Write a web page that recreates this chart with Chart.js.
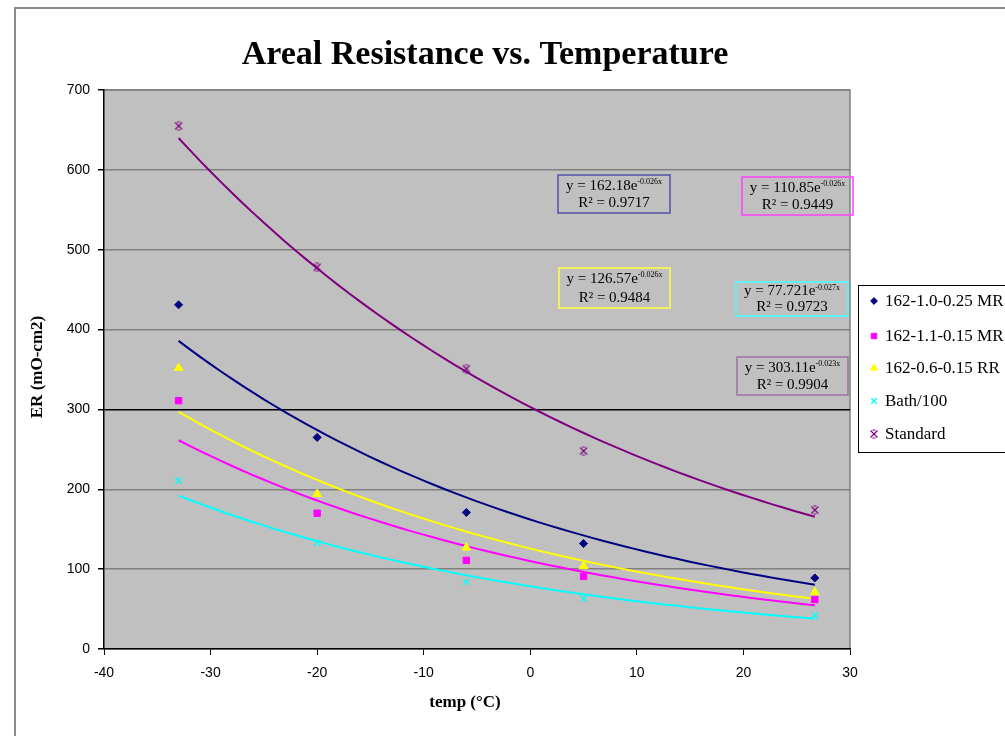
<!DOCTYPE html>
<html>
<head>
<meta charset="utf-8">
<script src="https://cdn.jsdelivr.net/npm/chart.js@4/dist/chart.umd.min.js"></script>
<style>
  body { margin: 0; background: #fff; }
  canvas { display: block; }
</style>
</head>
<body>
<canvas id="erChart" width="1005" height="736"></canvas>
<script>
// Datos
const temps = [-33, -20, -6, 5, 26.7];
const seriesNames = ["162-1.0-0.25 MR", "162-1.1-0.15 MR", "162-0.6-0.15 RR", "Bath/100", "Standard"];
const er1 = [431, 265, 171, 132, 89];
const er2 = [311, 170, 111, 91, 62];
const er3 = [352, 194, 127, 104, 71];
const bath = [211, 133, 84, 63, 42];
const standard = [655, 478, 351, 248, 174];
const seriesColors = ["#000080", "#ff00ff", "#ffff00", "#00ffff", "#800080"];

// Textos de las ecuaciones de tendencia
const eqBase = ["y = 162.18e", "y = 110.85e", "y = 126.57e", "y = 77.721e", "y = 303.11e"];
const eqExp = ["-0.026x", "-0.026x", "-0.026x", "-0.027x", "-0.023x"];
const eqR2 = ["R\u00b2 = 0.9717", "R\u00b2 = 0.9449", "R\u00b2 = 0.9484", "R\u00b2 = 0.9723", "R\u00b2 = 0.9904"];

const xTicks = [-40, -30, -20, -10, 0, 10, 20, 30];
const yTicks = [0, 100, 200, 300, 400, 500, 600, 700];

const allSeries = [er1, er2, er3, bath, standard];

// marcador del "Standard": x con barras cortas arriba y abajo
function standardMarker() {
  const c = document.createElement("canvas");
  c.width = 10; c.height = 10;
  const g = c.getContext("2d");
  g.strokeStyle = "#800080";
  g.lineWidth = 1.2;
  g.beginPath();
  g.moveTo(1.5, 1.5); g.lineTo(8.5, 8.5);
  g.moveTo(8.5, 1.5); g.lineTo(1.5, 8.5);
  g.moveTo(3.5, 1); g.lineTo(6.5, 1);
  g.moveTo(3.5, 9); g.lineTo(6.5, 9);
  g.stroke();
  return c;
}

const pointStyles = ["rectRot", "rect", "triangle", "crossRot", standardMarker()];
const pointSizes = [4, 4.5, 5, 4.5, 5];

// ajuste exponencial (como Excel: regresión lineal sobre ln y)
function expFit(xs, ys) {
  const n = xs.length;
  const ly = ys.map(v => Math.log(v));
  const mx = xs.reduce((a, b) => a + b, 0) / n;
  const my = ly.reduce((a, b) => a + b, 0) / n;
  let sxy = 0, sxx = 0;
  for (let i = 0; i < n; i++) {
    sxy += (xs[i] - mx) * (ly[i] - my);
    sxx += (xs[i] - mx) ** 2;
  }
  const k = sxy / sxx;
  return { a: Math.exp(my - k * mx), k: k };
}

function trendPoints(ys) {
  const f = expFit(temps, ys);
  const x0 = Math.min(...temps), x1 = Math.max(...temps);
  const pts = [];
  for (let i = 0; i <= 60; i++) {
    const x = x0 + (x1 - x0) * i / 60;
    pts.push({ x: x, y: f.a * Math.exp(f.k * x) });
  }
  return pts;
}

const datasets = [];
allSeries.forEach((ys, i) => {
  datasets.push({
    type: "line",
    label: "trend" + i,
    data: trendPoints(ys),
    borderColor: seriesColors[i],
    borderWidth: 2,
    pointRadius: 0,
    fill: false,
    order: 2
  });
});
allSeries.forEach((ys, i) => {
  datasets.push({
    type: "scatter",
    label: seriesNames[i],
    data: temps.map((t, j) => ({ x: t, y: ys[j] })),
    backgroundColor: seriesColors[i],
    borderColor: seriesColors[i],
    borderWidth: i === 3 ? 1.3 : 1,
    pointStyle: pointStyles[i],
    pointRadius: pointSizes[i],
    showLine: false,
    order: 1
  });
});

const framePlugin = {
  id: "frame",
  beforeDraw(chart) {
    const ctx = chart.ctx;
    const a = chart.chartArea;
    ctx.save();
    ctx.fillStyle = "#fff";
    ctx.fillRect(0, 0, chart.width, chart.height);
    // marco exterior
    ctx.strokeStyle = "#8c8c8c";
    ctx.lineWidth = 2;
    ctx.strokeRect(15, 8, 1200, 900);
    // área del gráfico
    ctx.fillStyle = "#c0c0c0";
    ctx.fillRect(a.left, a.top, a.right - a.left, a.bottom - a.top);
    ctx.strokeStyle = "#808080";
    ctx.lineWidth = 1.5;
    ctx.beginPath();
    ctx.moveTo(a.left, a.top);
    ctx.lineTo(a.right, a.top);
    ctx.lineTo(a.right, a.bottom);
    ctx.stroke();
    ctx.restore();
  },
  afterDraw(chart) {
    const ctx = chart.ctx;
    ctx.save();
    ctx.fillStyle = "#000";
    // título
    ctx.font = "bold 34px 'Liberation Serif'";
    ctx.textAlign = "center";
    ctx.textBaseline = "middle";
    ctx.fillText("Areal Resistance vs. Temperature", 485, 55);
    // títulos de ejes
    ctx.font = "bold 17px 'Liberation Serif'";
    ctx.fillText("temp (\u00b0C)", 465, 703);
    ctx.save();
    ctx.translate(38, 367);
    ctx.rotate(-Math.PI / 2);
    ctx.font = "bold 17px 'Liberation Serif'";
    ctx.fillText("ER (mO-cm2)", 0, 0);
    ctx.restore();

    // cuadros de ecuación
    const boxes = [
      [558, 175, 112, 38], [742, 177, 111, 38], [559, 268, 111, 40],
      [736, 282, 112, 34], [737, 357, 111, 38]
    ];
    const boxColors = ["#5050a8", "#ff40ff", "#ffff40", "#40ffff", "#a070a0"];
    boxes.forEach((b, i) => {
      ctx.strokeStyle = boxColors[i];
      ctx.lineWidth = 1.5;
      ctx.strokeRect(b[0], b[1], b[2], b[3]);
      ctx.fillStyle = "#000";
      ctx.font = "15px 'Liberation Serif'";
      ctx.textAlign = "left";
      ctx.textBaseline = "middle";
      const w1 = ctx.measureText(eqBase[i]).width;
      ctx.font = "8px 'Liberation Serif'";
      const w2 = ctx.measureText(eqExp[i]).width;
      const sx = b[0] + (b[2] - w1 - w2) / 2;
      ctx.font = "15px 'Liberation Serif'";
      ctx.fillText(eqBase[i], sx, b[1] + b[3] * 0.28);
      ctx.font = "8px 'Liberation Serif'";
      ctx.fillText(eqExp[i], sx + w1, b[1] + b[3] * 0.28 - 4);
      ctx.font = "15px 'Liberation Serif'";
      ctx.textAlign = "center";
      ctx.fillText(eqR2[i], b[0] + b[2] / 2, b[1] + b[3] * 0.74);
    });

    // leyenda
    ctx.fillStyle = "#fff";
    ctx.fillRect(858, 285, 200, 167);
    ctx.strokeStyle = "#000";
    ctx.lineWidth = 1;
    ctx.strokeRect(858.5, 285.5, 200, 167);
    const rows = [301, 336, 368, 401, 434];
    const scatterSets = chart.data.datasets.filter(d => d.type === "scatter");
    scatterSets.forEach((d, r) => {
      ctx.fillStyle = d.backgroundColor;
      ctx.strokeStyle = d.borderColor;
      ctx.lineWidth = d.borderWidth;
      Chart.helpers.drawPoint(ctx, {
        pointStyle: d.pointStyle,
        radius: d.pointRadius * 0.85,
        borderWidth: d.borderWidth,
        rotation: 0
      }, 874, rows[r]);
      ctx.fillStyle = "#000";
      ctx.font = "17px 'Liberation Serif'";
      ctx.textAlign = "left";
      ctx.textBaseline = "middle";
      ctx.fillText(d.label, 885, rows[r] + 1);
    });
    ctx.restore();
  }
};

new Chart(document.getElementById("erChart"), {
  type: "scatter",
  data: { datasets: datasets },
  options: {
    responsive: false,
    animation: false,
    devicePixelRatio: 1,
    layout: { padding: { left: 44, right: 155, top: 90, bottom: 57 } },
    plugins: {
      legend: { display: false },
      title: { display: false },
      tooltip: { enabled: false }
    },
    scales: {
      x: {
        type: "linear",
        min: xTicks[0],
        max: xTicks[xTicks.length - 1],
        afterBuildTicks: s => { s.ticks = xTicks.map(v => ({ value: v })); },
        afterFit: s => { s.height = 30; },
        ticks: { color: "#000", font: { family: "'Liberation Sans'", size: 14 }, padding: 10, maxRotation: 0 },
        grid: { drawOnChartArea: false, drawTicks: true, tickLength: 6, tickColor: "#000" },
        border: { color: "#000", width: 1.5 }
      },
      y: {
        min: yTicks[0],
        max: yTicks[yTicks.length - 1],
        afterBuildTicks: s => { s.ticks = yTicks.map(v => ({ value: v })); },
        afterFit: s => { s.width = 60; },
        ticks: { color: "#000", font: { family: "'Liberation Sans'", size: 14 }, padding: 8 },
        grid: {
          color: c => (c.tick && c.tick.value === 300) ? "#000" : "#808080",
          lineWidth: 1.5,
          tickLength: 6,
          tickColor: "#000"
        },
        border: { color: "#000", width: 1.5 }
      }
    }
  },
  plugins: [framePlugin]
});
</script>
</body>
</html>
